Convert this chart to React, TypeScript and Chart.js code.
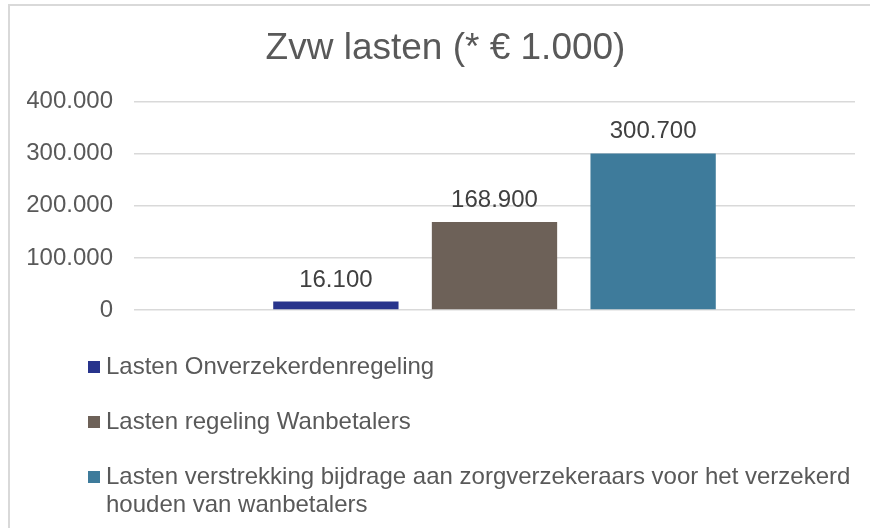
import { useEffect, useRef } from 'react';
import { Chart, registerables } from 'chart.js';

Chart.register(...registerables);

const chartTitle = 'Zvw lasten (* € 1.000)';
const categories = [''];
const seriesNames = [
  'Lasten Onverzekerdenregeling',
  'Lasten regeling Wanbetalers',
  'Lasten verstrekking bijdrage aan zorgverzekeraars voor het verzekerd houden van wanbetalers',
];
const seriesValues = [16100, 168900, 300700];
const seriesColors = ['#28348C', '#6D6158', '#3E7B9B'];
const yMin = 0;
const yMax = 400000;
const yStep = 100000;

const FONT = '"Liberation Sans", Arial, sans-serif';
const TEXT = '#595959';
const LABEL = '#404040';

const fmt = (v: number) => String(Math.round(v)).replace(/\B(?=(\d{3})+(?!\d))/g, '.');

function wrapText(ctx: CanvasRenderingContext2D, text: string, maxW: number): string[] {
  const words = text.split(' ');
  const lines: string[] = [];
  let cur = '';
  for (const w of words) {
    const test = cur ? cur + ' ' + w : w;
    if (ctx.measureText(test).width > maxW && cur) {
      lines.push(cur);
      cur = w;
    } else {
      cur = test;
    }
  }
  if (cur) lines.push(cur);
  return lines;
}

const valueLabels = {
  id: 'valueLabels',
  afterDatasetsDraw(chart: any) {
    const ctx = chart.ctx;
    ctx.save();
    ctx.font = `24px ${FONT}`;
    ctx.fillStyle = LABEL;
    ctx.textAlign = 'center';
    ctx.textBaseline = 'alphabetic';
    chart.data.datasets.forEach((ds: any, i: number) => {
      const meta = chart.getDatasetMeta(i);
      meta.data.forEach((el: any, j: number) => {
        ctx.fillText(fmt(ds.data[j]), el.x, el.y - 15);
      });
    });
    ctx.restore();
  },
};

const sideLegend = {
  id: 'sideLegend',
  afterDraw(chart: any) {
    const ctx = chart.ctx;
    const base = chart.chartArea.bottom;
    const offsets = [57, 112, 167];
    ctx.save();
    ctx.font = `24px ${FONT}`;
    ctx.textAlign = 'left';
    ctx.textBaseline = 'alphabetic';
    chart.data.datasets.forEach((ds: any, i: number) => {
      const cy = base + offsets[i];
      ctx.fillStyle = ds.backgroundColor;
      ctx.fillRect(88, cy - 6, 12, 12);
      ctx.fillStyle = TEXT;
      const lines = wrapText(ctx, ds.label, 770);
      lines.forEach((ln, k) => {
        ctx.fillText(ln, 106, cy + 7 + k * 27.5);
      });
    });
    ctx.restore();
  },
};

export default function App() {
  const ref = useRef<HTMLCanvasElement | null>(null);

  useEffect(() => {
    if (!ref.current) return;
    const chart = new Chart(ref.current, {
      type: 'bar',
      data: {
        labels: categories,
        datasets: seriesNames.map((name, i) => ({
          label: name,
          data: [seriesValues[i]],
          backgroundColor: seriesColors[i],
          borderWidth: 0,
          categoryPercentage: 0.66,
          barPercentage: 0.79,
        })),
      },
      options: {
        animation: false,
        responsive: false,
        devicePixelRatio: 1,
        events: [],
        layout: { padding: { left: 27, right: 6, top: 0, bottom: 218 } },
        plugins: {
          legend: { display: false },
          tooltip: { enabled: false },
          title: {
            display: true,
            text: chartTitle,
            color: TEXT,
            font: { family: FONT, size: 37, weight: 'normal' as any, lineHeight: 1.2 },
            padding: { top: 27, bottom: 30.3 },
          },
        },
        scales: {
          x: { display: false },
          y: {
            position: 'left',
            min: yMin,
            max: yMax,
            ticks: {
              stepSize: yStep,
              padding: 21,
              color: TEXT,
              font: { family: FONT, size: 24 },
              callback: (v: any) => fmt(Number(v)),
            },
            grid: { color: '#D9D9D9', lineWidth: 1.5, drawTicks: false },
            border: { display: false },
            afterFit: (s: any) => {
              s.width = 107;
            },
          },
          y2: {
            position: 'right',
            display: true,
            ticks: { display: false },
            grid: { display: false, drawTicks: false },
            border: { display: false },
            afterFit: (s: any) => {
              s.width = 9;
            },
          },
        },
      },
      plugins: [valueLabels, sideLegend],
    });
    return () => chart.destroy();
  }, []);

  return (
    <div style={{ position: 'fixed', left: 0, top: 0, width: 870, height: 528, overflow: 'hidden', background: '#fff' }}>
      <div
        style={{
          position: 'absolute',
          left: 8,
          top: 4,
          width: 900,
          height: 600,
          borderTop: '2px solid #D9D9D9',
          borderLeft: '2px solid #D9D9D9',
          boxSizing: 'border-box',
        }}
      />
      <canvas
        ref={ref}
        width={870}
        height={528}
        style={{ position: 'absolute', left: 0, top: 0, width: 870, height: 528 }}
      />
    </div>
  );
}
